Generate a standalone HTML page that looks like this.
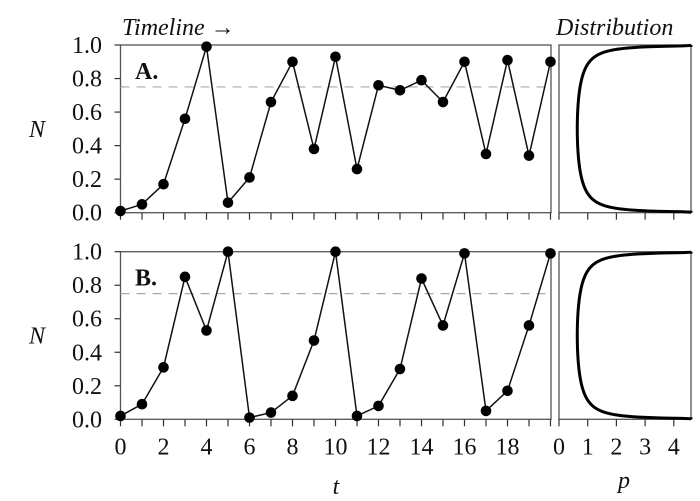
<!DOCTYPE html>
<html><head><style>body{margin:0;background:#fff}svg{display:block}</style></head>
<body><svg id="s" width="700" height="501" xmlns="http://www.w3.org/2000/svg" font-family="'Liberation Serif','DejaVu Serif',serif"></svg>
<script>
const s=document.getElementById('s');let h='';
const F=`font-family="'Liberation Serif','DejaVu Serif',serif" fill="#111"`;
const X0=120.5,DX=21.5,XR=551;
const PX0=559,PDX=28.7,PXR=691;
const panels=[{top:45,bot:212.7,lab:'A.',d:[0.01,0.05,0.17,0.56,0.99,0.06,0.21,0.66,0.90,0.38,0.93,0.26,0.76,0.73,0.79,0.66,0.90,0.35,0.91,0.34,0.90]},
{top:251.7,bot:419.3,lab:'B.',d:[0.02,0.09,0.31,0.85,0.53,1.0,0.01,0.04,0.14,0.47,1.0,0.02,0.08,0.30,0.84,0.56,0.99,0.05,0.17,0.56,0.99]}];
panels.forEach((p,pi)=>{
 const Y=v=>p.bot-(p.bot-p.top)*v;
 h+=`<rect x="${X0}" y="${p.top}" width="${XR-X0}" height="${p.bot-p.top}" fill="none" stroke="#555" stroke-width="1.3"/>`;
 h+=`<rect x="${PX0}" y="${p.top}" width="${PXR-PX0}" height="${p.bot-p.top}" fill="none" stroke="#555" stroke-width="1.3"/>`;
 for(let i=0;i<=5;i++){const y=Y(i*0.2);h+=`<line x1="${X0-6}" x2="${X0}" y1="${y}" y2="${y}" stroke="#333" stroke-width="1.2"/><text ${F} x="102" y="${y+8}" font-size="24" text-anchor="end">${(i*0.2).toFixed(1)}</text>`;}
 for(let t=0;t<=20;t++){const x=X0+t*DX;h+=`<line x1="${x}" x2="${x}" y1="${p.bot}" y2="${p.bot+7}" stroke="#333" stroke-width="1.2"/>`;if(pi==1&&t%2==0&&t<20)h+=`<text ${F} x="${x}" y="${p.bot+35}" font-size="24" text-anchor="middle">${t}</text>`;}
 for(let k=0;k<=4;k++){const x=PX0+k*PDX;h+=`<line x1="${x}" x2="${x}" y1="${p.bot}" y2="${p.bot+7}" stroke="#333" stroke-width="1.2"/>`;if(pi==1)h+=`<text ${F} x="${x}" y="${p.bot+35}" font-size="24" text-anchor="middle">${k}</text>`;}
 h+=`<line x1="${X0}" x2="${XR}" y1="${Y(0.75)}" y2="${Y(0.75)}" stroke="#aaa" stroke-width="1.2" stroke-dasharray="9,7"/>`;
 h+=`<polyline fill="none" stroke="#111" stroke-width="1.5" points="${p.d.map((v,i)=>(X0+i*DX)+','+Y(v)).join(' ')}"/>`;
 p.d.forEach((v,i)=>h+=`<circle cx="${X0+i*DX}" cy="${Y(v)}" r="5.3" fill="#000"/>`);
 h+=`<text ${F} x="135" y="${p.top+34}" font-size="24" font-weight="bold">${p.lab}</text>`;
 h+=`<text ${F} x="37" y="${(p.top+p.bot)/2+8}" font-size="24" font-style="italic" text-anchor="middle">N</text>`;
 let pts=[];for(let i=0;i<=400;i++){const y=0.0005+0.999*i/400;let d=1/(Math.PI*Math.sqrt(y*(1-y)));d=Math.min(d,4.6);pts.push((PX0+d*PDX)+','+Y(y));}
 h+=`<polyline fill="none" stroke="#000" stroke-width="3" points="${pts.join(' ')}"/>`;
});
h+=`<text ${F} x="122" y="35" font-size="24" font-style="italic">Timeline <tspan font-style="normal">→</tspan></text>`;
h+=`<text ${F} x="556" y="35" font-size="24" font-style="italic">Distribution</text>`;
h+=`<text ${F} x="336" y="494" font-size="24" font-style="italic" text-anchor="middle">t</text>`;
h+=`<text ${F} x="624" y="488" font-size="24" font-style="italic" text-anchor="middle">p</text>`;
s.innerHTML=h;
</script></body></html>
